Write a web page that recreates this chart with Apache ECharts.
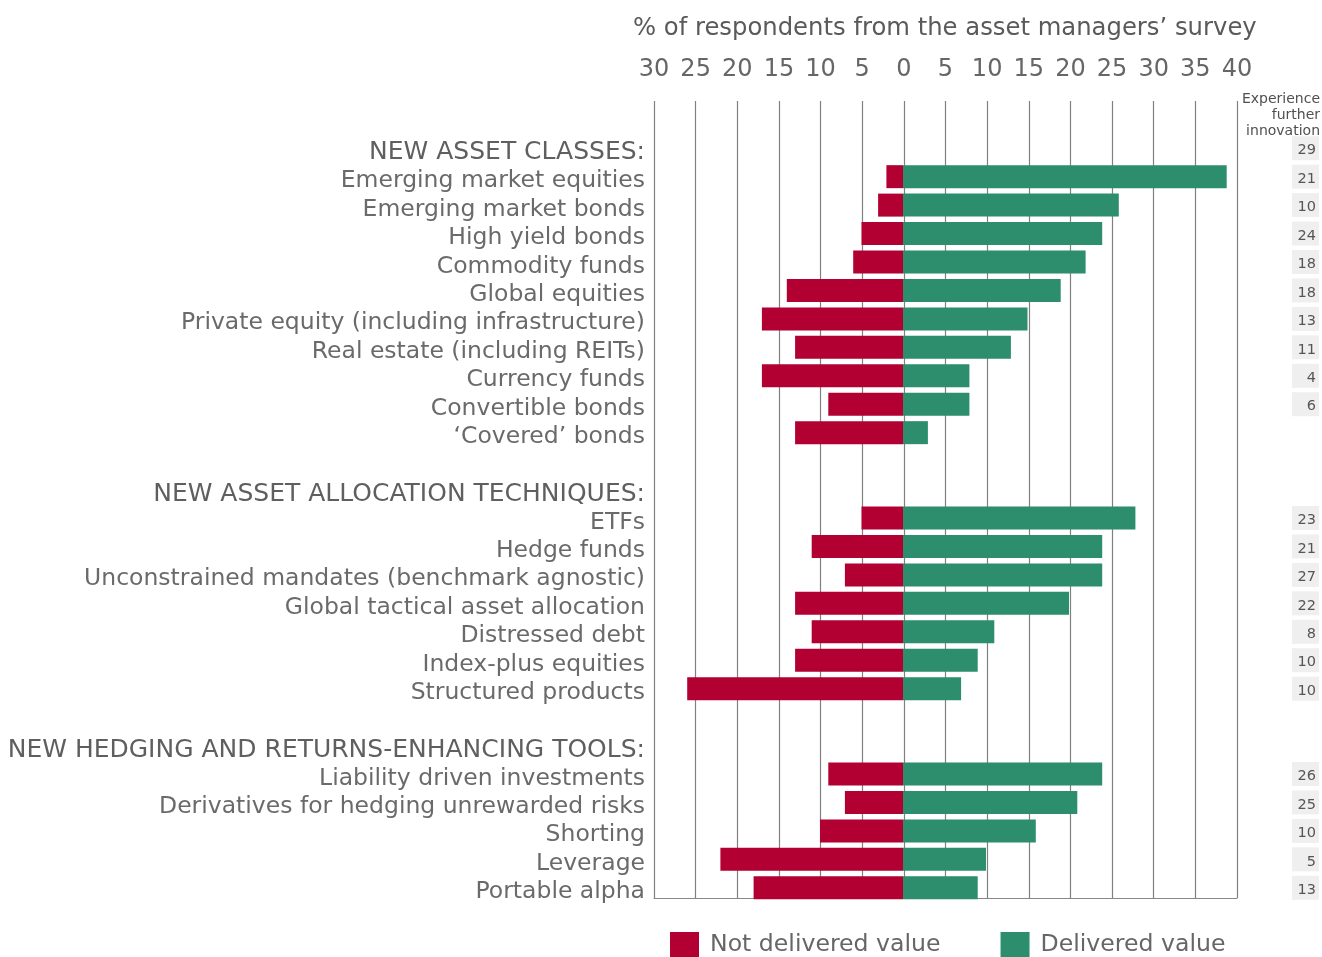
<!DOCTYPE html>
<html><head><meta charset="utf-8">
<script src="https://cdn.jsdelivr.net/npm/echarts@6/dist/echarts.min.js"></script>
<style>html,body{margin:0;padding:0;background:#fff}#c{width:1322px;height:957px}</style>
</head><body><div id="c"></div>
<script>
const categories = [
  'NEW ASSET CLASSES:', 'Emerging market equities', 'Emerging market bonds', 'High yield bonds',
  'Commodity funds', 'Global equities', 'Private equity (including infrastructure)',
  'Real estate (including REITs)', 'Currency funds', 'Convertible bonds', '‘Covered’ bonds', ' ',
  'NEW ASSET ALLOCATION TECHNIQUES:', 'ETFs', 'Hedge funds', 'Unconstrained mandates (benchmark agnostic)',
  'Global tactical asset allocation', 'Distressed debt', 'Index-plus equities', 'Structured products', '  ',
  'NEW HEDGING AND RETURNS-ENHANCING TOOLS:', 'Liability driven investments',
  'Derivatives for hedging unrewarded risks', 'Shorting', 'Leverage', 'Portable alpha'
];
const headers = ['NEW ASSET CLASSES:', 'NEW ASSET ALLOCATION TECHNIQUES:', 'NEW HEDGING AND RETURNS-ENHANCING TOOLS:'];
const notDelivered = [null, 2, 3, 5, 6, 14, 17, 13, 17, 9, 13, null,
  null, 5, 11, 7, 13, 11, 13, 26, null,
  null, 9, 7, 10, 22, 18];
const delivered = [null, 39, 26, 24, 22, 19, 15, 13, 8, 8, 3, null,
  null, 28, 24, 24, 20, 11, 9, 7, null,
  null, 24, 21, 16, 10, 9];
const innovation = ['29', '21', '10', '24', '18', '18', '13', '11', '4', '6', '', '',
  '', '23', '21', '27', '22', '8', '10', '10', '',
  '', '26', '25', '10', '5', '13'];
const xMin = -30, xMax = 40, xStep = 5;
const seriesNames = ['Not delivered value', 'Delivered value'];
const titleText = '% of respondents from the asset managers’ survey';
const sideTitle = 'Experience\nfurther\ninnovation';

const FONT = 'DejaVu Sans';
const chart = echarts.init(document.getElementById('c'), null, {renderer: 'canvas'});
chart.setOption({
  animation: false,
  textStyle: {fontFamily: FONT},
  title: [
    {text: titleText, left: 628, top: 12,
     textStyle: {fontFamily: FONT, fontSize: 24.3, fontWeight: 'normal', color: '#5a5a5a'}}
  ],
  graphic: [
    {type: 'text', x: 1320, y: 91,
     style: {text: sideTitle, align: 'right', verticalAlign: 'top', fontFamily: FONT, fontSize: 14,
             lineHeight: 16, fill: '#505050'}}
  ],
  legend: {
    left: 665, top: 927, itemWidth: 29, itemHeight: 25, itemGap: 60, icon: 'rect',
    data: seriesNames,
    textStyle: {fontFamily: FONT, fontSize: 23.6, color: '#666', padding: [5, 0, 0, 6]}
  },
  grid: [
    {left: 654, right: 85, top: 101, bottom: 59},
    {left: 654, right: 85, top: 134, bottom: 55}
  ],
  xAxis: [
    {gridIndex: 0, type: 'value', position: 'top', min: xMin, max: xMax, interval: xStep,
     axisLine: {show: true, lineStyle: {color: '#888', width: 1}},
     axisTick: {show: false},
     axisLabel: {formatter: v => String(Math.abs(v)), fontFamily: FONT, fontSize: 24, color: '#666', margin: 19},
     splitLine: {show: true, lineStyle: {color: '#808080', width: 1.2}}},
    {gridIndex: 1, type: 'value', min: xMin, max: xMax, interval: xStep, show: false, splitLine: {show: false}}
  ],
  yAxis: [
    {gridIndex: 0, type: 'value', show: false, splitLine: {show: false}},
    {gridIndex: 1, type: 'category', data: categories, inverse: true,
     axisLine: {show: false}, axisTick: {show: false},
     axisLabel: {
       margin: 9, interval: 0,
       formatter: v => headers.includes(v) ? '{h|' + v + '}' : '{n|' + v + '}',
       rich: {
         h: {fontFamily: FONT, fontSize: 25, color: '#5f5f5f', padding: [9, 0, 0, 0]},
         n: {fontFamily: FONT, fontSize: 23.5, color: '#6a6a6a', padding: [9, 0, 0, 0]}
       }
     }},
    {gridIndex: 1, type: 'category', data: categories, inverse: true, position: 'right',
     axisLine: {show: false}, axisTick: {show: false},
     axisLabel: {
       margin: 57, interval: 0,
       formatter: (v, i) => innovation[i] ? '{b|' + innovation[i] + '}' : '',
       rich: {
         b: {fontFamily: FONT, fontSize: 14.5, color: '#555', backgroundColor: '#efefef',
             width: 23, align: 'right', padding: [7, 3, 2, 1]}
       }
     }}
  ],
  series: [
    {name: seriesNames[0], type: 'bar', xAxisIndex: 1, yAxisIndex: 1, stack: 's', barWidth: 23,
     itemStyle: {color: '#B10031'}, data: notDelivered.map(v => v == null ? null : -v)},
    {name: seriesNames[1], type: 'bar', xAxisIndex: 1, yAxisIndex: 1, stack: 's', barWidth: 23,
     itemStyle: {color: '#2C8E6C'}, data: delivered}
  ]
});
</script></body></html>
